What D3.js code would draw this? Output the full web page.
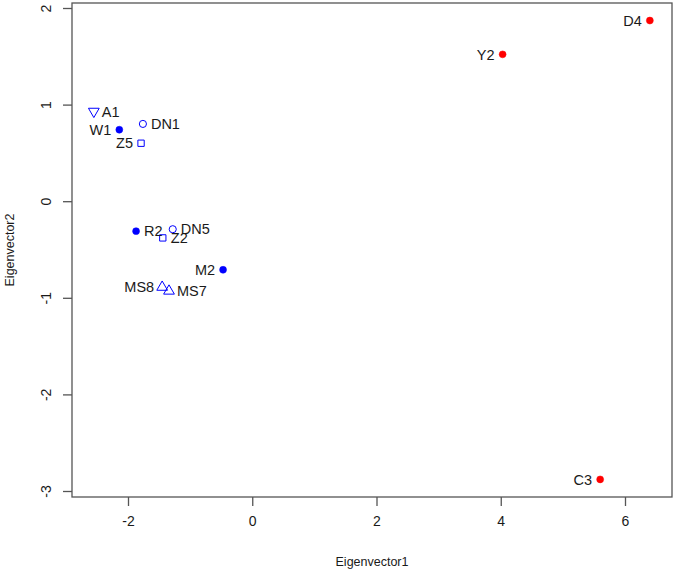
<!DOCTYPE html>
<html>
<head>
<meta charset="utf-8">
<script src="https://cdn.jsdelivr.net/npm/d3@7"></script>
<style>
  body { margin: 0; background: #fff; }
  svg text { font-family: "Liberation Sans", Arial, sans-serif; fill: #1a1a1a; }
</style>
</head>
<body>
<svg id="chart" width="675" height="573"></svg>
<script>
// Data
const names  = ['A1', 'W1', 'DN1', 'Z5', 'R2', 'DN5', 'Z2', 'M2', 'MS8', 'MS7', 'Y2', 'D4', 'C3'];
const ev1    = [-2.55, -2.14, -1.76, -1.79, -1.87, -1.28, -1.44, -0.47, -1.45, -1.34, 4.03, 6.40, 5.60];
const ev2    = [0.93, 0.74, 0.80, 0.60, -0.31, -0.29, -0.38, -0.71, -0.89, -0.93, 1.52, 1.87, -2.88];
const shapes = ['tridown', 'dot', 'circle', 'square', 'dot', 'circle', 'square', 'dot', 'triup', 'triup', 'dot', 'dot', 'dot'];
const groups = ['b', 'b', 'b', 'b', 'b', 'b', 'b', 'b', 'b', 'b', 'r', 'r', 'r'];
const sides  = ['right', 'left', 'right', 'left', 'right', 'right', 'right', 'left', 'left', 'right', 'left', 'left', 'left'];
const xTicks = [-2, 0, 2, 4, 6];
const yTicks = [-3, -2, -1, 0, 1, 2];

const COLORS = { b: '#0000ff', r: '#ff0000', axis: '#555' };
const BOX = { left: 72, right: 672, top: 3, bottom: 497 };

const svg = d3.select('#chart');

// Scales
const x = d3.scaleLinear().domain([-2, 6]).range([128, 625]);
const y = d3.scaleLinear().domain([-3, 2]).range([491, 8]);

// Box
svg.append('rect')
    .attr('x', BOX.left).attr('y', BOX.top)
    .attr('width', BOX.right - BOX.left).attr('height', BOX.bottom - BOX.top)
    .attr('fill', 'none').attr('stroke', COLORS.axis).attr('stroke-width', 1.3);

// Axes (plain hyphen for negatives, like R)
const fmt = d => String(d);
const xAxis = svg.append('g')
    .attr('transform', `translate(0,${BOX.bottom})`)
    .call(d3.axisBottom(x).tickValues(xTicks).tickSize(9).tickPadding(10).tickFormat(fmt));
const yAxis = svg.append('g')
    .attr('transform', `translate(${BOX.left},0)`)
    .call(d3.axisLeft(y).tickValues(yTicks).tickSize(9).tickPadding(6).tickFormat(fmt));

[xAxis, yAxis].forEach(g => {
    g.select('.domain').remove();
    g.selectAll('.tick line').attr('stroke', COLORS.axis).attr('stroke-width', 1.3);
    g.selectAll('.tick text').attr('font-size', 14).attr('fill', '#1a1a1a')
        .style('font-family', '"Liberation Sans", Arial, sans-serif');
});
yAxis.selectAll('.tick text')
    .attr('text-anchor', 'middle')
    .attr('dy', 0)
    .attr('x', 0)
    .attr('transform', 'translate(-26,0) rotate(-90)')
    .attr('dominant-baseline', 'central');

// Axis titles
svg.append('text')
    .attr('x', (BOX.left + BOX.right) / 2).attr('y', 566)
    .attr('text-anchor', 'middle').attr('font-size', 12.5)
    .text('Eigenvector1');
svg.append('text')
    .attr('transform', `translate(14,${(BOX.top + BOX.bottom) / 2}) rotate(-90)`)
    .attr('text-anchor', 'middle').attr('font-size', 12.5)
    .text('Eigenvector2');

// Points
const pts = names.map((n, i) => ({ name: n, x: ev1[i], y: ev2[i], shape: shapes[i], col: COLORS[groups[i]], side: sides[i] }));

const sym = {
    dot: d3.symbol().type(d3.symbolCircle).size(38),
    circle: d3.symbol().type(d3.symbolCircle).size(40),
    square: d3.symbol().type(d3.symbolSquare).size(40),
    triup: d3.symbol().type(d3.symbolTriangle).size(50),
    tridown: d3.symbol().type(d3.symbolTriangle).size(50)
};

svg.append('g').selectAll('path')
    .data(pts)
    .join('path')
    .attr('d', d => sym[d.shape]())
    .attr('transform', d => `translate(${x(d.x)},${y(d.y)})` + (d.shape === 'tridown' ? ' rotate(180)' : ''))
    .attr('fill', d => d.shape === 'dot' ? d.col : 'none')
    .attr('stroke', d => d.col)
    .attr('stroke-width', d => d.shape === 'dot' ? 0.5 : 1);

// Labels
svg.append('g').selectAll('text')
    .data(pts)
    .join('text')
    .attr('x', d => x(d.x) + (d.side === 'right' ? 8 : -8))
    .attr('y', d => y(d.y))
    .attr('dy', '0.36em')
    .attr('text-anchor', d => d.side === 'right' ? 'start' : 'end')
    .attr('font-size', 14.5)
    .text(d => d.name);
</script>
</body>
</html>
